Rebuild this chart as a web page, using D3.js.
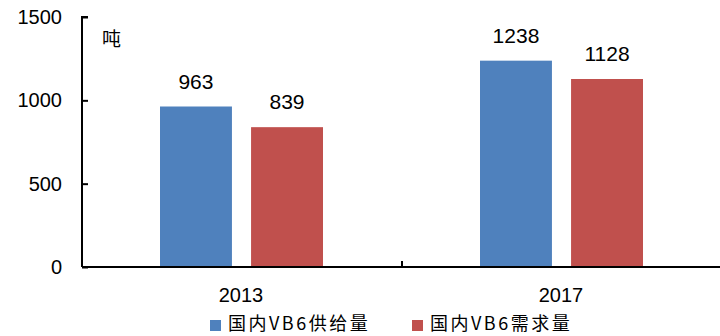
<!DOCTYPE html>
<html><head><meta charset="utf-8">
<script src="https://cdn.jsdelivr.net/npm/d3@7"></script>
<style>html,body{margin:0;padding:0;background:#fff;overflow:hidden}</style>
</head><body>
<svg id="c" width="720" height="336"></svg>
<script>
const categories = ["2013", "2017"];
const seriesNames = ["国内VB6供给量", "国内VB6需求量"];
const supply = [963, 1238];
const demand = [839, 1128];
const yTicks = [0, 500, 1000, 1500];
const unitLabel = "吨";
const colors = ["#4F81BD", "#C0504D"];

const svg = d3.select("#c");
const x0 = 82, x1 = 722, yTop = 17, yBot = 267;
const y = d3.scaleLinear().domain([0, 1500]).range([yBot, yTop]);
const x = d3.scaleBand().domain(categories).range([x0, x1]).paddingInner(0).paddingOuter(0);
const xs = d3.scaleBand().domain(seriesNames).range([78, 241]).paddingInner(0.21).paddingOuter(0);
const font = "'Liberation Sans', Arial, sans-serif";
const cjk = "'Noto Sans CJK SC', sans-serif";

const series = [supply, demand];
const data = [];
categories.forEach((c, i) => series.forEach((s, j) => data.push({c, name: seriesNames[j], v: s[i], j})));

svg.selectAll("rect.bar").data(data).enter().append("rect")
  .attr("class", "bar")
  .attr("x", d => x(d.c) + xs(d.name))
  .attr("width", xs.bandwidth())
  .attr("y", d => y(d.v))
  .attr("height", d => y(0) - y(d.v))
  .attr("fill", d => colors[d.j]);

svg.selectAll("text.val").data(data).enter().append("text")
  .attr("x", d => x(d.c) + xs(d.name) + xs.bandwidth() / 2)
  .attr("y", d => y(d.v) - 18)
  .attr("text-anchor", "middle")
  .attr("font-family", font).attr("font-size", 21).attr("fill", "#000")
  .text(d => d.v);

// Y axis
const yAxis = d3.axisRight(y).tickValues(yTicks).tickSize(6).tickFormat("");
const ya = svg.append("g").attr("transform", `translate(${x0},0)`).call(yAxis);
ya.select(".domain").attr("d", `M6,${yTop}H0V${yBot}`).attr("stroke", "#000").attr("stroke-width", 2);
ya.selectAll(".tick line").attr("stroke", "#000").attr("stroke-width", 2);

svg.selectAll("text.yt").data(yTicks).enter().append("text")
  .attr("x", 62).attr("y", d => y(d) + 7)
  .attr("text-anchor", "end")
  .attr("font-family", font).attr("font-size", 20).attr("fill", "#000")
  .text(d => d);

// X axis
svg.append("line").attr("x1", x0).attr("x2", 720).attr("y1", yBot).attr("y2", yBot)
  .attr("stroke", "#000").attr("stroke-width", 2);
const bounds = [x0, x0 + x.bandwidth(), x1];
svg.selectAll("line.xt").data(bounds.slice(1)).enter().append("line")
  .attr("x1", d => d).attr("x2", d => d).attr("y1", yBot).attr("y2", yBot - 6)
  .attr("stroke", "#000").attr("stroke-width", 2);

svg.selectAll("text.cat").data(categories).enter().append("text")
  .attr("x", d => x(d) + x.bandwidth() / 2 - 1).attr("y", 302)
  .attr("text-anchor", "middle")
  .attr("font-family", font).attr("font-size", 20).attr("fill", "#000")
  .text(d => d);

// unit
svg.append("text").attr("x", 102).attr("y", 46)
  .attr("font-family", cjk).attr("font-size", 19).attr("fill", "#000")
  .text(unitLabel);

// Legend
const legX = [210, 412];
seriesNames.forEach((n, i) => {
  svg.append("rect").attr("x", legX[i]).attr("y", 320).attr("width", 11).attr("height", 11).attr("fill", colors[i]);
  svg.append("text").attr("x", legX[i] + 18).attr("y", 330)
    .attr("font-family", cjk).attr("font-size", 18).attr("letter-spacing", 2.5).attr("fill", "#000")
    .text(n);
});
</script>
</body></html>
